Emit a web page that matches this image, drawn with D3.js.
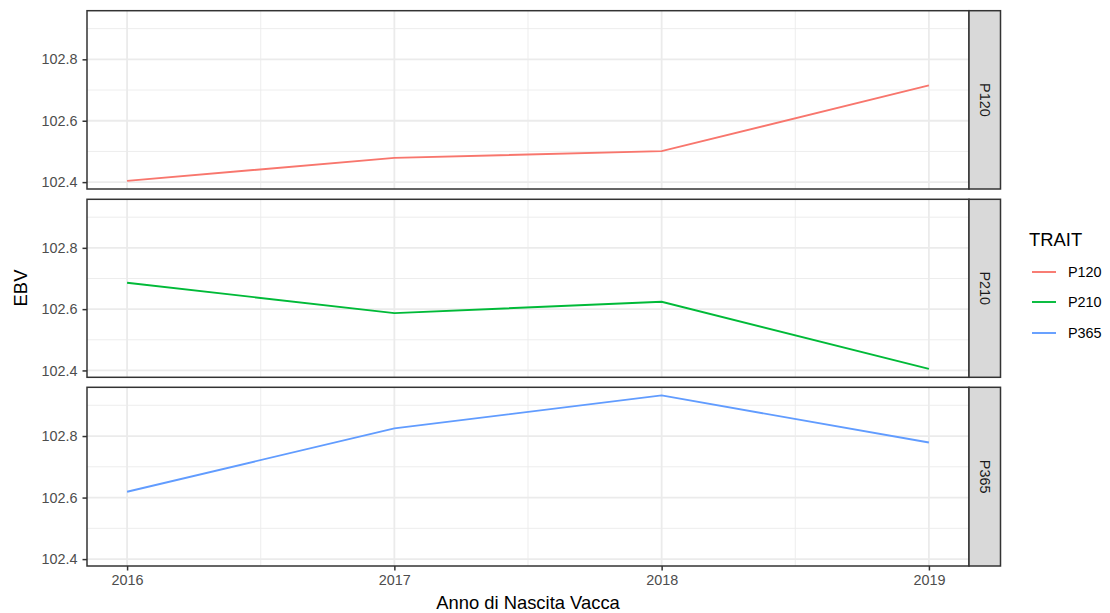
<!DOCTYPE html>
<html><head><meta charset="utf-8">
<script src="https://cdn.jsdelivr.net/npm/d3@7"></script>
<style>body{margin:0;background:#fff}svg{display:block}text{font-family:"Liberation Sans",Arial,Helvetica,sans-serif}</style>
</head><body><svg id="c" width="1110" height="613"></svg>
<script>
const years = [2016, 2017, 2018, 2019];
const traits = ["P120", "P210", "P365"];
const P120 = [102.404, 102.479, 102.501, 102.715];
const P210 = [102.686, 102.587, 102.624, 102.405];
const P365 = [102.619, 102.825, 102.932, 102.779];
const colors = ["#F8766D", "#00BA38", "#619CFF"];
const yTicks = [102.4, 102.6, 102.8];
const yMinor = [102.5, 102.7, 102.9];
const xMinor = [2016.5, 2017.5, 2018.5];
const seriesVals = [P120, P210, P365];

const svg = d3.select("#c");
const L = 87, R = 969, stripW = 31.5;
const panels = [{t:10.7,b:189},{t:199.3,b:377.3},{t:387.3,b:566}];
const all = seriesVals.flat();
const ymin = d3.min(all), ymax = d3.max(all), yr = ymax - ymin;
const x = d3.scaleLinear().domain([2016 - 0.15, 2019 + 0.15]).range([L, R]);

panels.forEach((p, i) => {
  const y = d3.scaleLinear().domain([ymin - 0.05*yr, ymax + 0.05*yr]).range([p.b, p.t]);
  const g = svg.append("g");
  g.append("rect").attr("x", L).attr("y", p.t).attr("width", R-L).attr("height", p.b-p.t).attr("fill", "#fff");
  g.selectAll(".ym").data(yMinor).join("line").attr("x1", L).attr("x2", R)
    .attr("y1", d=>y(d)).attr("y2", d=>y(d)).attr("stroke", "#ebebeb").attr("stroke-width", 0.9);
  g.selectAll(".xm").data(xMinor).join("line").attr("y1", p.t).attr("y2", p.b)
    .attr("x1", d=>x(d)).attr("x2", d=>x(d)).attr("stroke", "#ebebeb").attr("stroke-width", 0.9);
  g.selectAll(".yM").data(yTicks).join("line").attr("x1", L).attr("x2", R)
    .attr("y1", d=>y(d)).attr("y2", d=>y(d)).attr("stroke", "#ebebeb").attr("stroke-width", 1.8);
  g.selectAll(".xM").data(years).join("line").attr("y1", p.t).attr("y2", p.b)
    .attr("x1", d=>x(d)).attr("x2", d=>x(d)).attr("stroke", "#ebebeb").attr("stroke-width", 1.8);
  const line = d3.line().x((d,j)=>x(years[j])).y(d=>y(d));
  g.append("path").datum(seriesVals[i]).attr("d", line).attr("fill","none")
    .attr("stroke", colors[i]).attr("stroke-width", 1.9);
  g.append("rect").attr("x", L).attr("y", p.t).attr("width", R-L).attr("height", p.b-p.t)
    .attr("fill", "none").attr("stroke", "#333").attr("stroke-width", 1.5);
  const ya = g.append("g").attr("transform", `translate(${L},0)`)
    .call(d3.axisLeft(y).tickValues(yTicks).tickFormat(d3.format(".1f")).tickSize(4.5).tickPadding(5));
  ya.select(".domain").remove();
  ya.selectAll(".tick line").attr("stroke", "#333").attr("stroke-width", 1.5);
  ya.selectAll(".tick text").attr("fill", "#4d4d4d").style("font-size", "14.4px")
    .style("font-family", '"Liberation Sans",Arial,sans-serif');
  g.append("rect").attr("x", R).attr("y", p.t).attr("width", stripW).attr("height", p.b-p.t)
    .attr("fill", "#d9d9d9").attr("stroke", "#333").attr("stroke-width", 1.5);
  g.append("text").attr("transform", `translate(${R+stripW/2},${(p.t+p.b)/2}) rotate(90)`)
    .attr("text-anchor", "middle").attr("dy", "0.35em").attr("fill", "#1a1a1a")
    .style("font-size", "14.4px").text(traits[i]);
  if (i === 2) {
    const xa = g.append("g").attr("transform", `translate(0,${p.b})`)
      .call(d3.axisBottom(x).tickValues(years).tickFormat(d3.format("d")).tickSize(4.5).tickPadding(4.5));
    xa.select(".domain").remove();
    xa.selectAll(".tick line").attr("stroke", "#333").attr("stroke-width", 1.5);
    xa.selectAll(".tick text").attr("fill", "#4d4d4d").style("font-size", "14.4px")
      .style("font-family", '"Liberation Sans",Arial,sans-serif');
  }
});

svg.append("text").attr("x", (L+R)/2).attr("y", 609).attr("text-anchor", "middle")
  .style("font-size", "18.4px").attr("fill", "#000").text("Anno di Nascita Vacca");
svg.append("text").attr("transform", "translate(26.5,288) rotate(-90)").attr("text-anchor", "middle")
  .style("font-size", "18.4px").attr("fill", "#000").text("EBV");

const lg = svg.append("g");
lg.append("text").attr("x", 1029).attr("y", 246).style("font-size", "18.4px").text("TRAIT");
const ky = [272, 302, 333];
traits.forEach((t, i) => {
  lg.append("line").attr("x1", 1032).attr("x2", 1056).attr("y1", ky[i]).attr("y2", ky[i])
    .attr("stroke", colors[i]).attr("stroke-width", 1.9);
  lg.append("text").attr("x", 1068).attr("y", ky[i]).attr("dy", "0.36em")
    .style("font-size", "14.4px").attr("fill", "#000").text(t);
});
</script></body></html>
